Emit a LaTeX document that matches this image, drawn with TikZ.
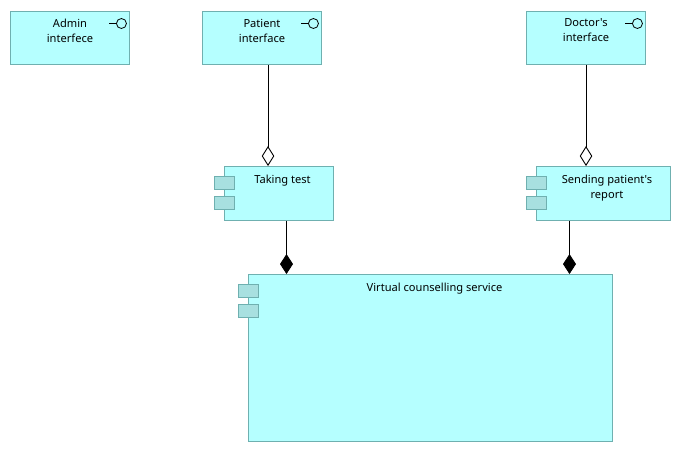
\documentclass[tikz,border=0pt]{standalone}
\usepackage{fontspec}
\newfontfamily\capfont{Noto Sans}
\usepackage{xcolor}
\usetikzlibrary{arrows.meta}
\definecolor{boxfill}{HTML}{B5FFFF}
\definecolor{boxline}{HTML}{6FB0B0}
\definecolor{tabfill}{HTML}{A8E0E0}
\tikzset{
  box/.style={draw=boxline,fill=boxfill,rectangle,inner sep=0pt,line width=0.9pt},
  tab/.style={draw=boxline,fill=tabfill,rectangle,inner sep=0pt,line width=0.9pt,minimum width=20pt,minimum height=13pt},
  caption/.style={font=\capfont\fontsize{11.1}{15}\selectfont,align=center,inner sep=0pt,text=black},
  aggr/.style={-{Diamond[open,length=20pt,width=12.5pt]},line width=0.9pt},
  comp/.style={-{Diamond[length=20pt,width=13pt]},line width=0.9pt}
}
\begin{document}
\begin{tikzpicture}[x=1pt,y=-1pt]
\useasboundingbox (0,0) rectangle (681,452);
% interfaces
\node[box,minimum width=119pt,minimum height=53.5pt] (admin) at (70,37.75) {};
\node[box,minimum width=119pt,minimum height=53.5pt] (patient) at (262,37.75) {};
\node[box,minimum width=119pt,minimum height=53.5pt] (doctor) at (586,37.75) {};
\node[caption] (admintext) at (70,30.5) {Admin\\interfece};
\node[caption] (patienttext) at (262,30.5) {Patient\\interface};
\node[caption] (doctortext) at (586,30.5) {Doctor's\\interface};
\foreach \b in {admin,patient,doctor}{
  \node[draw=black,circle,inner sep=0pt,minimum size=10pt,line width=0.8pt] (\b ring) at ([xshift=-8.5pt,yshift=14.25pt]\b.east) {};
  \draw[line width=0.8pt] (\b ring.west) -- ++(-7,0);
}
% components
\node[box,minimum width=109pt,minimum height=54pt] (test) at (278.75,193.5) {};
\node[box,minimum width=134pt,minimum height=54pt] (report) at (603,193.5) {};
\node[box,minimum width=364pt,minimum height=166.5pt] (service) at (430.25,357.75) {};
\node[caption] (testtext) at (282.5,180.5) {Taking test};
\node[caption] (reporttext) at (607,188) {Sending patient's\\report};
\node[caption] (servicetext) at (434.5,288.5) {Virtual counselling service};
\foreach \b in {test,report,service}{
  \node[tab] (\b taba) at ([xshift=0.5pt,yshift=-16.5pt]\b.north west) {};
  \node[tab] (\b tabb) at ([xshift=0.5pt,yshift=-36.5pt]\b.north west) {};
}
% relations
\draw[aggr] ([xshift=6pt]patient.south) -- ([xshift=-10.75pt]test.north);
\draw[aggr] (doctor.south) -- ([xshift=-17pt]report.north);
\draw[comp] ([xshift=7.75pt]test.south) -- ([xshift=-143.75pt]service.north);
\draw[comp] ([xshift=-33.5pt]report.south) -- ([xshift=139.25pt]service.north);
\end{tikzpicture}
\end{document}
